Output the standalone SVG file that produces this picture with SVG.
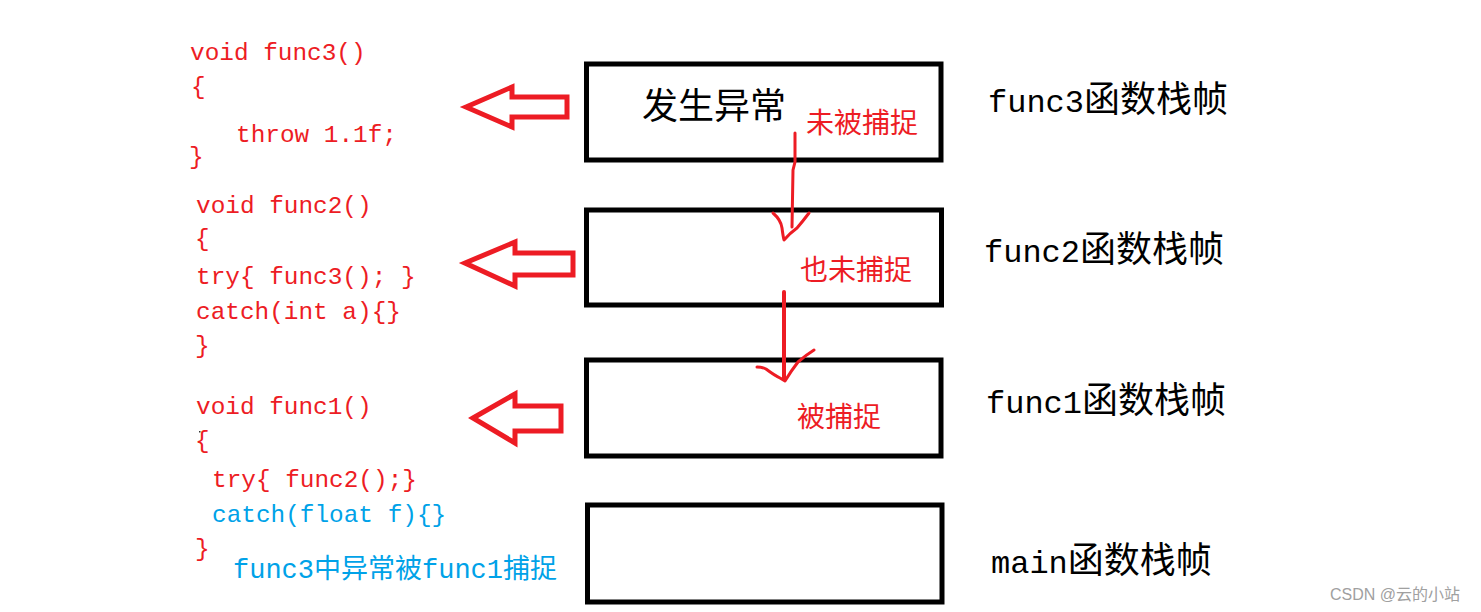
<svg xmlns="http://www.w3.org/2000/svg" width="1481" height="612" viewBox="0 0 1481 612">
<style>
.box{fill:#fff;stroke:#000;stroke-width:5}
.code{font-family:"Liberation Mono","Noto Sans CJK SC",monospace;font-size:24.4px;fill:#ED1C24}
.blue{fill:#00A2E8}
.lbl{font-family:"Liberation Mono","Noto Sans CJK SC",monospace;fill:#000}
.cjk{font-family:"Noto Sans CJK SC",sans-serif}
.note{font-family:"Noto Sans CJK SC",sans-serif;font-size:28px;fill:#ED1C24}
.harrow{fill:none;stroke:#ED1C24;stroke-width:5;stroke-linejoin:miter}
.hand{fill:none;stroke:#ED1C24;stroke-linecap:round;stroke-linejoin:round}
</style>
<rect width="1481" height="612" fill="#fff"/>

<g id="code-func3">
<text class="code" x="190" y="60">void func3()</text>
<text class="code" x="191" y="94">{</text>
<text class="code" x="236" y="142">throw 1.1f;</text>
<text class="code" x="189" y="164">}</text>
</g>
<g id="code-func2">
<text class="code" x="196" y="213">void func2()</text>
<text class="code" x="195" y="246">{</text>
<text class="code" x="196" y="284">try{ func3(); }</text>
<text class="code" x="196" y="319">catch(int a){}</text>
<text class="code" x="195" y="353">}</text>
</g>
<g id="code-func1">
<text class="code" x="196" y="414">void func1()</text>
<rect x="199" y="431" width="1.5" height="1.5" fill="#333"/>
<text class="code" x="195" y="448">{</text>
<text class="code" x="212" y="487">try{ func2();}</text>
<text class="code blue" x="212" y="522">catch(float f){}</text>
<text class="code" x="195" y="556">}</text>
<text class="code blue" x="233" y="578" style="font-size:27px">func3中异常被func1捕捉</text>
</g>

<g id="frame-func3">
<rect class="box" x="586.5" y="64" width="354.5" height="96"/>
<text x="642" y="119" class="cjk" font-size="36" fill="#000">发生异常</text>
<text class="note" x="806" y="133">未被捕捉</text>
</g>
<g id="frame-func2">
<rect class="box" x="586.5" y="210" width="355" height="95"/>
<text class="note" x="800" y="280">也未捕捉</text>
</g>
<g id="frame-func1">
<rect class="box" x="586.5" y="360" width="354.5" height="96"/>
<text class="note" x="797" y="427">被捕捉</text>
</g>
<g id="frame-main">
<rect class="box" x="587.5" y="505" width="354.5" height="97"/>
</g>

<g id="labels">
<text class="lbl" x="988" y="112"><tspan font-size="32">func3</tspan><tspan class="cjk" font-size="36">函数栈帧</tspan></text>
<text class="lbl" x="984" y="262"><tspan font-size="32">func2</tspan><tspan class="cjk" font-size="36">函数栈帧</tspan></text>
<text class="lbl" x="986" y="413"><tspan font-size="32">func1</tspan><tspan class="cjk" font-size="36">函数栈帧</tspan></text>
<text class="lbl" x="991" y="573"><tspan font-size="32">main</tspan><tspan class="cjk" font-size="36">函数栈帧</tspan></text>
</g>

<g id="connectors">
<polygon class="harrow" points="466,107 512,87 512,97 567,97 567,117 512,117 512,127"/>
<polygon class="harrow" points="465,263 515,242 515,253 573,253 573,275 515,275 515,286"/>
<polygon class="harrow" points="473,418 515,394 515,406 561,406 561,431 515,431 515,443"/>
<path class="hand" stroke-width="3" d="M795,133 L795,162 L793,170 L792,227"/>
<path class="hand" stroke-width="3" d="M773,213 Q781,220 782,228 Q783,236 784,240 Q790,233 797,228 Q803,221 809,213"/>
<path class="hand" stroke-width="4" d="M784,292 L784,378"/>
<path class="hand" stroke-width="3" d="M757,367 Q762,367 766,369 Q774,375 780,378 L785,381 Q791,371 798,362 Q806,355 814,350"/>
</g>

<text x="1330" y="600" font-family="'Liberation Sans','Noto Sans CJK SC',sans-serif" font-size="16" fill="#a0a0a0">CSDN @云的小站</text>
</svg>
